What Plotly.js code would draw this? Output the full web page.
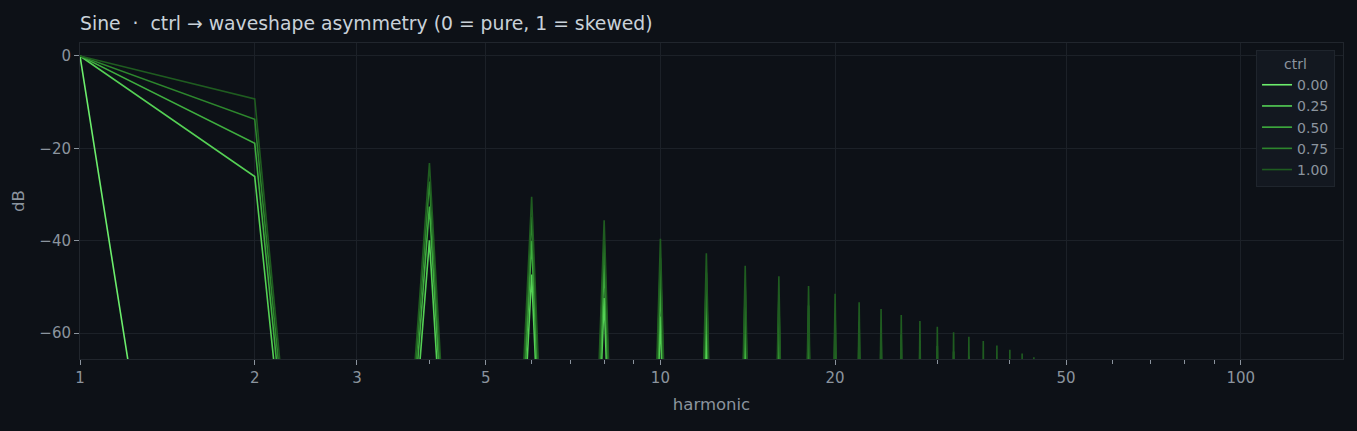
<!DOCTYPE html>
<html>
<head>
<meta charset="utf-8">
<script src="https://cdn.plot.ly/plotly-3.0.1.min.js"></script>
<style>
  html, body { margin: 0; padding: 0; background: #0d1117; }
  #chart { width: 1357px; height: 431px; }
</style>
</head>
<body>
<div id="chart"></div>
<script>
// harmonic numbers 1..49; odd harmonics (and every harmonic above 1 for the pure sine) sit at the numeric floor
const FLOOR_DB = -240;
const lastHarmonic = 49;

const ctrlLabels = ['0.00', '0.25', '0.50', '0.75', '1.00'];
const ctrlColors = ['#6ced6c', '#55d155', '#3fae3f', '#2d862d', '#1f5c20'];

// level of harmonics 2, 4, 6, ... 48 in dB, one list per ctrl value
const even_000 = [];
const even_025 = [-26.1, -39.9, -47.3, -52.4, -56.4, -59.5, -62.2, -64.5, -66.6, -68.3, -70.1, -71.6,
                  -72.9, -74.2, -75.4, -76.6, -77.6, -78.5, -79.5, -80.4, -81.2, -82.0, -82.8, -83.6];
const even_050 = [-18.9, -32.6, -40.0, -45.1, -49.1, -52.2, -54.9, -57.2, -59.3, -61.0, -62.8, -64.3,
                  -65.6, -66.9, -68.1, -69.3, -70.3, -71.2, -72.2, -73.1, -73.9, -74.7, -75.5, -76.3];
const even_075 = [-13.7, -27.2, -34.8, -39.8, -43.8, -46.9, -49.6, -51.9, -54.0, -55.7, -57.5, -59.0,
                  -60.3, -61.6, -62.8, -64.0, -65.0, -65.9, -66.9, -67.8, -68.6, -69.4, -70.2, -71.0];
const even_100 = [-9.3, -23.2, -30.5, -35.6, -39.6, -42.7, -45.4, -47.7, -49.8, -51.5, -53.3, -54.8,
                  -56.1, -57.4, -58.6, -59.8, -60.8, -61.7, -62.7, -63.6, -64.4, -65.2, -66.0, -66.8];
const evenLevels = [even_000, even_025, even_050, even_075, even_100];

const xTickVals = [1, 2, 3, 5, 10, 20, 50, 100];
const xMinorVals = [4, 6, 7, 8, 9, 30, 40, 60, 70, 80, 90];
const yTickVals = [0, -20, -40, -60];

const harmonics = [];
for (let h = 1; h <= lastHarmonic; h++) harmonics.push(h);

function spectrum(evens) {
  return harmonics.map(h => {
    if (h === 1) return 0;
    if (h % 2 === 1) return FLOOR_DB;
    const v = evens[h / 2 - 1];
    return v === undefined ? FLOOR_DB : v;
  });
}

const traces = ctrlLabels.map((name, i) => ({
  type: 'scatter',
  mode: 'lines',
  name: name,
  x: harmonics,
  y: spectrum(evenLevels[i]),
  line: { color: ctrlColors[i], width: 1.6 },
}));

const FONT = 'DejaVu Sans, sans-serif';
const axisFont = { family: FONT, size: 15, color: '#8b949e' };

const layout = {
  width: 1357,
  height: 431,
  paper_bgcolor: '#0d1117',
  plot_bgcolor: '#0d1117',
  font: { family: FONT, color: '#8b949e' },
  margin: { l: 80, r: 14, t: 43, b: 72 },
  title: {
    text: 'Sine  ·  ctrl → waveshape asymmetry (0 = pure, 1 = skewed)',
    font: { family: FONT, size: 18.8, color: '#c9d1d9' },
    x: 80 / 1357, xanchor: 'left',
    y: 1 - 23 / 431, yanchor: 'middle',
  },
  xaxis: {
    type: 'log',
    range: [0, Math.log10(150)],
    tickmode: 'array',
    tickvals: xTickVals,
    ticktext: xTickVals.map(String),
    ticks: 'outside', ticklen: 5, tickwidth: 1, tickcolor: '#8b949e',
    tickfont: axisFont,
    minor: { tickmode: 'array', tickvals: xMinorVals, ticks: 'outside', ticklen: 4, tickcolor: '#8b949e', showgrid: false },
    gridcolor: '#1c2128',
    showline: true, linecolor: '#21262d', linewidth: 1, mirror: true,
    zeroline: false,
    title: { text: 'harmonic', font: { family: FONT, size: 16.5, color: '#8b949e' }, standoff: 12 },
  },
  yaxis: {
    range: [-65.6, 2.8],
    tickmode: 'array',
    tickvals: yTickVals,
    ticks: 'outside', ticklen: 5, tickwidth: 1, tickcolor: '#8b949e',
    tickfont: axisFont,
    gridcolor: '#1c2128',
    showline: true, linecolor: '#21262d', linewidth: 1, mirror: true,
    zeroline: false,
    title: { text: 'dB', font: { family: FONT, size: 16.5, color: '#8b949e' }, standoff: 10 },
  },
  legend: {
    x: 0.9937, xanchor: 'right',
    y: 0.978, yanchor: 'top',
    bgcolor: '#131820',
    bordercolor: '#1f252d',
    borderwidth: 1,
    tracegroupgap: 0,
    font: { family: FONT, size: 14, color: '#8b949e' },
    title: { text: 'ctrl', side: 'top center', font: { family: FONT, size: 14, color: '#8b949e' } },
  },
  showlegend: true,
};

Plotly.newPlot('chart', traces, layout, { displayModeBar: false, staticPlot: true });
</script>
</body>
</html>
